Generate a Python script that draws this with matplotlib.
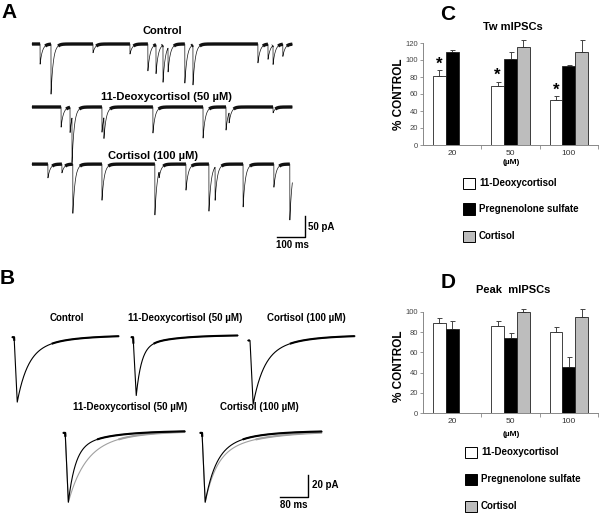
import numpy as np
import matplotlib
matplotlib.use("Agg")
import matplotlib.pyplot as plt
from matplotlib.patches import Rectangle

plt.rcParams["font.family"] = ["Liberation Sans", "DejaVu Sans"]

W, H = 600, 513

# 1. DATA
# panel A: spontaneous mIPSC events (time in ms, amplitude in pA)
ctrl_times = [29, 68, 218, 350, 414, 443, 468, 486, 546, 575, 807, 843, 861, 896]
ctrl_amps = [48, 119, 21, 24, 64, 69, 88, 57, 93, 95, 45, 36, 45, 29]
deoxy_times = [104, 136, 143, 250, 257, 432, 611, 693, 704, 861]
deoxy_amps = [48, 60, 107, 60, 50, 62, 74, 55, 24, 14]
cort_times = [57, 107, 146, 250, 439, 454, 550, 632, 654, 754, 864, 921]
cort_amps = [33, 21, 117, 86, 121, 14, 62, 112, 79, 102, 55, 133]
trace_labels_a = ["Control", "11-Deoxycortisol (50 µM)", "Cortisol (100 µM)"]

# panel B: averaged mIPSCs (peak pA, fast fraction, tau fast ms, tau slow ms, pre-level pA)
avg_labels_top = ["Control", "11-Deoxycortisol (50 µM)", "Cortisol (100 µM)"]
avg_peak_top = [61, 55, 63]
avg_frac_top = [0.75, 0.8, 0.7]
avg_tauf_top = [30, 15, 30]
avg_taus_top = [110, 90, 100]
avg_pre_top = [-2, -2, -5]

avg_labels_bot = ["11-Deoxycortisol (50 µM)", "Cortisol (100 µM)"]
drug_peak = [65, 65]
drug_frac = [0.75, 0.7]
drug_tauf = [20, 30]
drug_taus = [100, 100]
ctrl_peak = [65, 65]
ctrl_frac = [0.65, 0.65]
ctrl_tauf = [45, 32]
ctrl_taus = [110, 130]

# panels C and D: % of control, mean and SEM
concentrations = ["20", "50", "100"]
drugs = ["11-Deoxycortisol", "Pregnenolone sulfate", "Cortisol"]
tw_deoxy = [81, 70, 53]
tw_deoxy_err = [7, 4.7, 5]
tw_preg = [110, 101, 93.5]
tw_preg_err = [1.2, 8, 0.5]
tw_cort = [np.nan, 115, 110]
tw_cort_err = [0, 8, 13]
tw_signif = [True, True, True]
peak_deoxy = [89.5, 86, 80.5]
peak_deoxy_err = [5, 4.6, 4.6]
peak_preg = [83.5, 74, 46]
peak_preg_err = [8, 5, 9]
peak_cort = [np.nan, 100, 95]
peak_cort_err = [0, 3, 8]

bar_colors = ["white", "black", "#bdbdbd"]


def px_axes(fig, left, top, right, bottom):
    return fig.add_axes([left / W, 1 - bottom / H, (right - left) / W, (bottom - top) / H])


def ftext(fig, x, y, s, **kw):
    fig.text(x / W, 1 - y / H, s, **kw)


# 2. TRACES
def event_train(times, amps, t, tau=8.0):
    y = np.zeros_like(t)
    for t0, a in zip(times, amps):
        m = t >= t0
        y[m] -= a * np.exp(-(t[m] - t0) / tau)
    return y


def avg_current(t, peak, frac, tauf, taus, pre=0.0, t_on=6.0, t_pk=15.0):
    y = np.full_like(t, pre, dtype=float)
    rise = (t >= t_on) & (t < t_pk)
    y[rise] = pre + (-peak - pre) * (t[rise] - t_on) / (t_pk - t_on)
    d = t >= t_pk
    td = t[d] - t_pk
    y[d] = -peak * (frac * np.exp(-td / tauf) + (1 - frac) * np.exp(-td / taus))
    return y


def draw_noisy(ax, x, y, base, color="black", thin=0.6, thick=2.0, cut=6):
    ax.plot(x, y, color=color, lw=thin)
    yy = np.where(y - base > -cut, y, np.nan)
    ax.plot(x, yy, color=color, lw=thick, solid_capstyle="butt")


def plot_panel_a(fig):
    ax = px_axes(fig, 30, 20, 340, 255)
    ax.set_xlim((30 - 32) / 0.28, (340 - 32) / 0.28)
    ax.set_ylim(-(255 - 44) / 0.42, -(20 - 44) / 0.42)
    ax.axis("off")

    t = np.arange(0, 930, 0.25)
    offsets = [0, -150, -286]
    series = [(ctrl_times, ctrl_amps), (deoxy_times, deoxy_amps), (cort_times, cort_amps)]
    for (tt, aa), off in zip(series, offsets):
        y = event_train(tt, aa, t) + off
        draw_noisy(ax, t, y, off, color="#111111", thin=0.5, thick=2.4, cut=5)

    # scale bar 100 ms / 50 pA
    ax.plot([875, 975, 975], [-459.5, -459.5, -409.5], color="black", lw=1.0)

    ftext(fig, 9, 13, "A", fontsize=15, fontweight="bold", ha="center", va="center")
    ftext(fig, 162, 31, trace_labels_a[0], fontsize=8, fontweight="bold", ha="center", va="center")
    ftext(fig, 166, 97, trace_labels_a[1], fontsize=8, fontweight="bold", ha="center", va="center")
    ftext(fig, 153, 156, trace_labels_a[2], fontsize=8, fontweight="bold", ha="center", va="center")
    ftext(fig, 308, 227, "50 pA", fontsize=7, fontweight="bold", ha="left", va="center")
    ftext(fig, 276, 245, "100 ms", fontsize=7, fontweight="bold", ha="left", va="center")


def plot_panel_b(fig):
    ax = px_axes(fig, 0, 290, 400, 513)
    ax.set_xlim((0 - 12) / 0.35, (400 - 12) / 0.35)
    ax.set_ylim(-(513 - 335) / 1.1, -(290 - 335) / 1.1)
    ax.axis("off")

    t = np.arange(0, 306, 0.5)
    for i, start in enumerate([0, 340, 674]):
        y = avg_current(t, avg_peak_top[i], avg_frac_top[i], avg_tauf_top[i],
                        avg_taus_top[i], avg_pre_top[i])
        draw_noisy(ax, t + start, y, 0, thin=0.8, thick=1.5, cut=8)

    t2 = np.arange(0, 349, 0.5)
    for i, start in enumerate([146, 537]):
        yc = avg_current(t2, ctrl_peak[i], ctrl_frac[i], ctrl_tauf[i], ctrl_taus[i], -2) - 87
        yd = avg_current(t2, drug_peak[i], drug_frac[i], drug_tauf[i], drug_taus[i], -2) - 87
        draw_noisy(ax, t2 + start, yc, -87, color="#a0a0a0", thin=0.8, thick=1.5, cut=8)
        draw_noisy(ax, t2 + start, yd, -87, color="black", thin=0.8, thick=1.5, cut=8)

    # scale bar 80 ms / 20 pA
    ax.plot([765.7, 845.7, 845.7], [-147.3, -147.3, -127.3], color="black", lw=1.0)

    ftext(fig, 7, 278, "B", fontsize=15, fontweight="bold", ha="center", va="center")
    for x, s in zip([67, 185, 306], avg_labels_top):
        ftext(fig, x, 318, s, fontsize=7, fontweight="bold", ha="center", va="center")
    for x, s in zip([130, 259], avg_labels_bot):
        ftext(fig, x, 407, s, fontsize=7, fontweight="bold", ha="center", va="center")
    ftext(fig, 312, 485, "20 pA", fontsize=7, fontweight="bold", ha="left", va="center")
    ftext(fig, 294, 505, "80 ms", fontsize=7, fontweight="bold", ha="center", va="center")


# 3. BAR CHARTS
def plot_bars(fig, box, ymax, vals, errs, title, title_y, letter, letter_y, ylab_y, um_y,
              legend_x, legend_ys, text_x, stars=None):
    ax = px_axes(fig, *box)
    x = np.arange(len(concentrations))
    w = 0.22
    for k, (v, e) in enumerate(zip(vals, errs)):
        xs = x + (k - 1) * w
        ax.bar(xs, v, width=w, color=bar_colors[k], edgecolor="#222222", linewidth=0.6, zorder=2)
        eb = ax.errorbar(xs, v, yerr=[np.zeros(len(e)), e], fmt="none", ecolor="#444444",
                         elinewidth=0.7, capsize=1.8, capthick=0.7, zorder=1)
        for art in eb.lines[1] + eb.lines[2]:
            art.set_clip_on(False)
    if stars is not None:
        for i, s in enumerate(stars):
            if s:
                ax.text(x[i] - w, vals[0][i] + errs[0][i] - 2, "*", ha="center", va="bottom",
                        fontsize=12, fontweight="bold")
    ax.set_xlim(-0.5, 2.5)
    ax.set_ylim(0, ymax)
    ax.set_yticks(np.arange(0, ymax + 1, 20))
    ax.set_xticks(x)
    ax.set_xticklabels(concentrations)
    ax.set_xticks([0.5, 1.5, 2.5], minor=True)
    ax.tick_params(axis="x", which="major", length=0, pad=3.5, labelsize=6, labelcolor="#333333")
    ax.tick_params(axis="x", which="minor", length=3, color="#888888", width=0.6)
    ax.tick_params(axis="y", length=2.5, width=0.6, color="#888888", pad=1,
                   labelsize=5.5, labelcolor="#444444")
    for sp in ["top", "right"]:
        ax.spines[sp].set_visible(False)
    for sp in ["left", "bottom"]:
        ax.spines[sp].set_color("#888888")
        ax.spines[sp].set_linewidth(0.7)
    ax.patch.set_alpha(0)

    ftext(fig, 513, title_y, title, fontsize=8, fontweight="bold", ha="center", va="center")
    ftext(fig, 448, letter_y, letter, fontsize=15, fontweight="bold", ha="center", va="center")
    fig.text(399 / W, 1 - ylab_y / H, "% CONTROL", rotation=90, fontsize=8.5, fontweight="bold",
             ha="center", va="center")
    ftext(fig, 511, um_y, "(µM)", fontsize=6, fontweight="bold", ha="center", va="center")

    for k, (name, yy) in enumerate(zip(drugs, legend_ys)):
        fig.add_artist(Rectangle((legend_x / W, 1 - (yy + 5.5) / H), 12 / W, 11 / H,
                                 transform=fig.transFigure, facecolor=bar_colors[k],
                                 edgecolor="black", linewidth=0.7))
        ftext(fig, text_x, yy, name, fontsize=7, fontweight="bold", ha="left", va="center")


# 4. MAIN
def main():
    fig = plt.figure(figsize=(W / 100, H / 100), dpi=100)
    fig.patch.set_facecolor("white")

    plot_panel_a(fig)
    plot_panel_b(fig)

    plot_bars(fig, (423, 43, 598, 145), 120,
              [tw_deoxy, tw_preg, tw_cort], [tw_deoxy_err, tw_preg_err, tw_cort_err],
              "Tw mIPSCs", 27, "C", 14, 94, 163, 463, [183, 209, 236], 479, stars=tw_signif)
    plot_bars(fig, (423, 312, 598, 413), 100,
              [peak_deoxy, peak_preg, peak_cort], [peak_deoxy_err, peak_preg_err, peak_cort_err],
              "Peak  mIPSCs", 290, "D", 283, 366, 434, 465, [452, 479, 506], 481)

    fig.savefig("out.png", dpi=100, facecolor="white")


if __name__ == "__main__":
    main()
